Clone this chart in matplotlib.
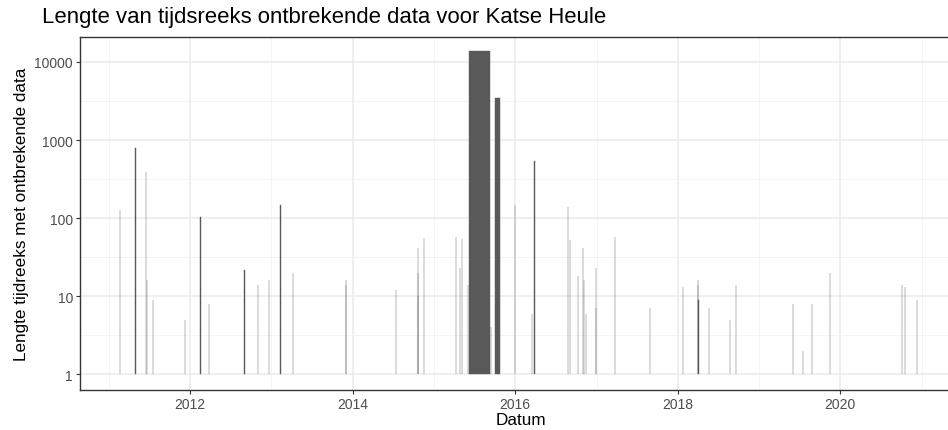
import numpy as np
import pandas as pd
import matplotlib
matplotlib.use("Agg")
import matplotlib.pyplot as plt
import matplotlib.dates as mdates

plt.rcParams['font.family'] = ['Liberation Sans', 'DejaVu Sans']

# start of each gap and number of missing 10-minute values
gap_start = [
    "2011-02-21", "2011-04-27", "2011-06-17", "2011-06-24", "2011-07-20",
    "2011-12-10", "2012-02-17", "2012-03-25", "2012-09-02", "2012-10-31",
    "2012-12-20", "2013-02-10", "2013-04-09", "2013-12-02", "2013-12-03",
    "2014-07-13", "2014-10-20", "2014-10-21", "2014-10-22", "2014-11-18",
    "2015-04-09", "2015-04-27", "2015-05-08", "2015-06-03", "2015-06-07",
    "2015-09-16", "2015-10-01", "2016-01-01", "2016-03-17", "2016-03-28",
    "2016-08-26", "2016-09-02", "2016-10-08", "2016-10-30", "2016-11-06",
    "2016-11-14", "2016-12-28", "2016-12-29", "2017-03-26", "2017-08-29",
    "2018-01-23", "2018-04-02", "2018-04-03", "2018-04-04", "2018-05-23",
    "2018-08-22", "2018-09-20", "2019-06-03", "2019-07-16", "2019-08-29",
    "2019-11-14", "2020-10-05", "2020-10-16", "2020-12-10",
]
gap_length = [
    126, 795, 390, 16, 9,
    5, 105, 8, 22, 14,
    16, 147, 20, 16, 14,
    12, 42, 20, 10, 55,
    58, 23, 54, 14, 13800,
    4, 3470, 147, 6, 540,
    141, 52, 18, 42, 16,
    6, 23, 7, 58, 7,
    13, 16, 14, 9, 7,
    5, 14, 8, 2, 8,
    20, 14, 13, 9,
]

start = mdates.date2num(pd.to_datetime(gap_start))
length = np.array(gap_length, dtype=float)
width = length * 10 / 1440  # duration in days

fig = plt.figure(figsize=(9.48, 4.31), dpi=100)
x0 = mdates.date2num(pd.Timestamp("2010-08-25"))
x1 = mdates.date2num(pd.Timestamp("2021-07-01"))
ax = fig.add_axes([80 / 948, 1 - 391 / 431, (962 - 80) / 948, (391 - 38) / 431])

ax.set_yscale("log")
ax.set_ylim(10 ** -0.2, 10 ** 4.32)
ax.set_xlim(x0, x1)

# grid: majors on even years / decades, minors in between
years_major = [mdates.date2num(pd.Timestamp(f"{y}-01-01")) for y in range(2012, 2022, 2)]
years_minor = [mdates.date2num(pd.Timestamp(f"{y}-01-01")) for y in range(2011, 2022, 2)]
for v in years_major:
    ax.axvline(v, color="#ebebeb", lw=1.1, zorder=0)
for v in years_minor:
    ax.axvline(v, color="#f2f2f2", lw=0.6, zorder=0)
for e in range(0, 5):
    ax.axhline(10 ** e, color="#ebebeb", lw=1.1, zorder=0)
for e in np.arange(0.5, 4.5, 1):
    ax.axhline(10 ** e, color="#f2f2f2", lw=0.6, zorder=0)

ax.bar(start, length - 1, width=width, bottom=1, align="edge",
       color="#595959", edgecolor="#595959", linewidth=0.3, zorder=2)

ax.set_xticks(years_major)
ax.set_xticklabels([str(y) for y in range(2012, 2022, 2)])
ax.set_yticks([1, 10, 100, 1000, 10000])
ax.set_yticklabels(["1", "10", "100", "1000", "10000"])
ax.minorticks_off()
ax.tick_params(axis="both", colors="#333333", labelcolor="#4d4d4d",
               labelsize=10, length=3, width=0.8, pad=2)

for s in ax.spines.values():
    s.set_color("#333333")
    s.set_linewidth(1.0)
ax.spines["right"].set_visible(False)

ax.set_xlabel("Datum", fontsize=12.3, labelpad=1)
ax.set_ylabel("Lengte tijdreeks met ontbrekende data", fontsize=12.3, labelpad=4)
fig.text(42 / 948, 1 - 18 / 431, "Lengte van tijdsreeks ontbrekende data voor Katse Heule",
         fontsize=15.9, va="center", ha="left")

fig.savefig("out.png", dpi=100)
